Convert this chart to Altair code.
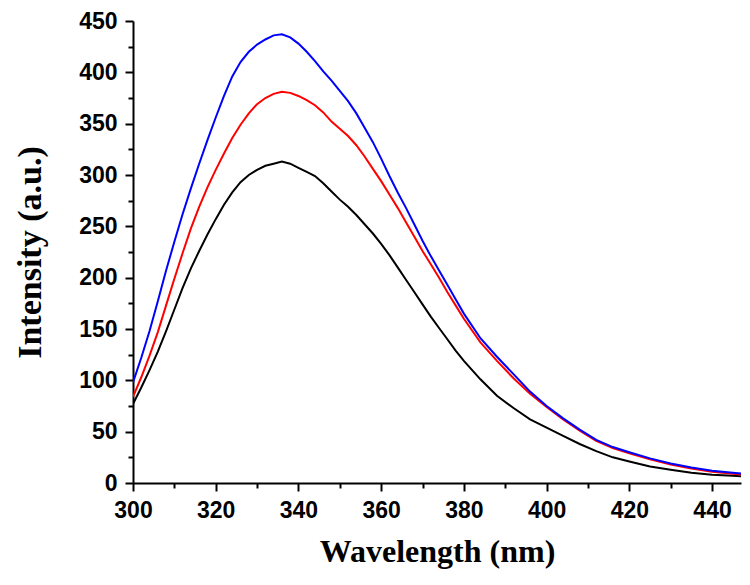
import altair as alt
import pandas as pd

wavelength = [300, 302, 304, 306, 308, 310, 312, 314, 316, 318, 320, 322, 324, 326, 328,
              330, 332, 334, 336, 338, 340, 342, 344, 346, 348, 350, 352, 354, 356, 358,
              360, 362, 364, 366, 368, 370, 372, 374, 376, 378, 380, 384, 388, 392, 396,
              400, 404, 408, 412, 416, 420, 425, 430, 435, 440, 445, 450]

black = [77, 93, 110, 128, 148, 169, 190, 209, 226, 242, 257, 271, 283, 293, 300,
         305, 309, 311, 313, 311, 307, 303, 299, 292, 284, 276, 269, 261, 252, 243,
         233, 222, 210, 198, 186, 174, 162, 151, 140, 129, 119, 101, 85, 73, 62,
         54, 46, 38, 31, 25, 21, 16, 13, 10, 8, 7, 6]

red = [84, 103, 124, 147, 173, 199, 224, 248, 269, 288, 305, 321, 336, 349, 360,
       369, 375, 379, 381, 380, 377, 373, 368, 361, 352, 345, 338, 329, 318, 306,
       294, 281, 268, 254, 240, 226, 213, 200, 186, 173, 160, 137, 119, 102, 87,
       74, 62, 51, 41, 34, 29, 23, 18, 14, 11, 9, 7]

blue = [98, 122, 148, 177, 207, 235, 262, 287, 311, 334, 356, 377, 396, 410, 420,
        427, 432, 436, 437, 434, 428, 420, 411, 401, 392, 382, 372, 360, 346, 332,
        316, 299, 283, 268, 252, 236, 221, 207, 193, 179, 165, 141, 123, 106, 89,
        75, 63, 52, 42, 35, 30, 24, 19, 15, 12, 10, 8]

x_ticks = list(range(300, 450, 10))
y_ticks = list(range(0, 451, 25))

df = pd.DataFrame({"Wavelength": wavelength, "Black": black, "Red": red, "Blue": blue})

x_axis = alt.Axis(
    values=x_ticks,
    format="d",
    labelExpr="datum.value % 20 === 0 ? datum.label : ''",
    tickSize={"condition": {"test": "datum.value % 20 !== 0", "value": 5}, "value": 8},
    labelFontSize=23,
    labelPadding=8,
    titleFontSize=32,
    titlePadding=14,
    labelFlush=False,
)
y_axis = alt.Axis(
    values=y_ticks,
    format="d",
    labelExpr="datum.value % 50 === 0 ? datum.label : ''",
    tickSize={"condition": {"test": "datum.value % 50 !== 0", "value": 5}, "value": 8},
    labelFontSize=23,
    labelPadding=8,
    titleFontSize=34,
    titlePadding=31,
    labelFlush=False,
)


def line(col, color):
    return alt.Chart(df).mark_line(color=color, strokeWidth=2, clip=True).encode(
        x=alt.X("Wavelength:Q",
                scale=alt.Scale(domain=[300, 447], nice=False, zero=False),
                axis=x_axis, title="Wavelength (nm)"),
        y=alt.Y(f"{col}:Q",
                scale=alt.Scale(domain=[0, 450], nice=False),
                axis=y_axis, title="Intensity (a.u.)"),
    )


chart = alt.layer(
    line("Black", "#000000"),
    line("Red", "#ff0000"),
    line("Blue", "#0000ff"),
).properties(
    width=608,
    height=462,
    padding={"left": 125, "top": 13, "right": 1, "bottom": 89},
    autosize=alt.AutoSizeParams(type="none"),
).configure_view(
    stroke=None
).configure_axis(
    grid=False,
    domainColor="#000000",
    domainWidth=2,
    tickColor="#000000",
    tickWidth=2,
    labelFont="Liberation Sans",
    labelFontWeight="bold",
    labelColor="#000000",
    titleFont="Liberation Serif",
    titleFontWeight="bold",
    titleColor="#000000",
)

chart.save("out.html", embed_options={"renderer": "svg", "actions": False})
